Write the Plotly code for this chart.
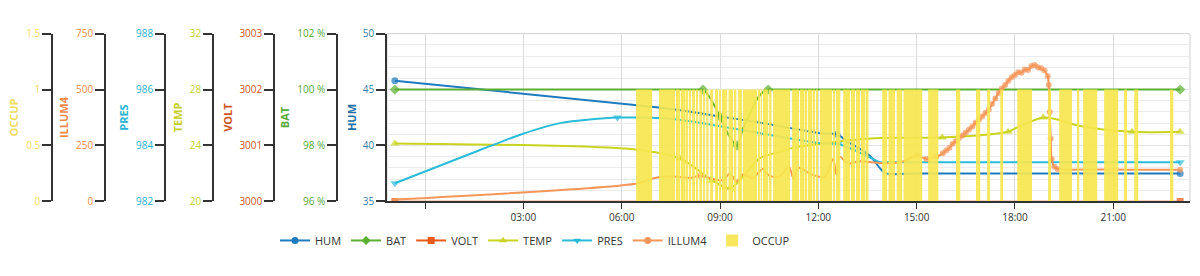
import plotly.graph_objects as go
import pandas as pd

BASE = pd.Timestamp('2024-01-02 00:00')

def T(hours):
    return [BASE + pd.Timedelta(hours=h) for h in hours]

# ---------------- data (hours relative to midnight) ----------------
hum_t = [-0.92, 6.47, 7.69, 9.0, 10.31, 12.05, 12.57, 12.9, 13.27, 13.6, 13.9, 14.05, 15.0, 17.0, 19.0, 21.0, 23.04]
hum_v = [45.8, 43.6, 43.2, 42.6, 42.0, 41.1, 41.0, 40.3, 39.7, 39.0, 37.9, 37.5, 37.5, 37.5, 37.5, 37.5, 37.5]
hum_mk = [0, 6, 16]

bat_t = [-0.92, 3.0, 6.0, 8.3, 8.48, 8.7, 9.0, 9.25, 9.52, 9.7, 9.9, 10.1, 10.3, 10.47, 10.65, 13.0, 16.0, 19.0, 23.04]
bat_v = [100, 100, 100, 100, 100, 99.7, 99.03, 98.4, 98.0, 98.6, 99.1, 99.6, 99.9, 100, 100, 100, 100, 100, 100]
bat_mk = [0, 4, 6, 8, 13, 18]

volt_t = [-0.92, 23.04]
volt_v = [3000, 3000]
volt_mk = [0, 1]

temp_t = [-0.92, 6.47, 7.78, 8.18, 8.76, 9.31, 10.22, 10.74, 11.38, 13.58, 14.7, 15.78, 17.79, 18.07, 18.86, 19.29, 19.99, 21.57, 23.04]
temp_v = [24.15, 23.7, 23.07, 22.5, 21.5, 20.95, 23.1, 23.5, 23.9, 24.5, 24.55, 24.57, 24.98, 25.3, 26.0, 25.86, 25.39, 24.98, 24.98]
temp_mk = [0, 2, 4, 5, 11, 12, 14, 17, 18]

pres_t = [-0.92, 1.68, 2.99, 4.12, 5.87, 6.47, 7.69, 10.31, 12.05, 12.6, 12.97, 13.27, 13.58, 13.88, 14.05, 16.0, 19.0, 21.0, 23.04]
pres_v = [982.65, 983.84, 984.42, 984.8, 985.0, 985.0, 984.93, 984.42, 984.08, 984.05, 983.9, 983.74, 983.57, 983.4, 983.4, 983.4, 983.4, 983.4, 983.4]
pres_mk = [0, 4, 9, 18]

illum_t = [-0.92, 6.47, 6.9, 7.2, 7.7, 8.1, 8.39, 8.8, 9.1, 9.3, 9.5, 9.7, 10.0, 10.3, 10.5, 10.8, 11.1, 11.25,
           11.4, 11.8, 12.2, 12.45, 12.55, 12.65, 12.9, 13.27, 13.6, 14.0, 14.5, 15.0, 15.3, 15.6,
           15.8, 15.9, 16.0, 16.1, 16.2, 16.3, 16.4, 16.5, 16.6, 16.7, 16.8, 16.9, 17.0, 17.1, 17.2, 17.3,
           17.4, 17.5, 17.6, 17.7, 17.8, 17.9, 18.0, 18.1, 18.2, 18.3, 18.4, 18.5, 18.6, 18.7, 18.8, 18.9,
           19.0, 19.03, 19.06, 19.09, 19.12, 19.2, 19.3, 19.5, 20.5, 21.5, 22.5, 23.04]
illum_v = [8, 80, 100, 110, 110, 105, 115, 100, 95, 125, 90, 120, 105, 145, 115, 110, 155, 100,
           150, 120, 110, 190, 120, 200, 170, 180, 175, 170, 175, 205, 190, 200,
           215, 228, 240, 258, 270, 285, 295, 308, 322, 335, 352, 365, 380, 395, 410, 435,
           460, 485, 505, 520, 540, 555, 565, 578, 575, 590, 588, 605, 610, 600, 595, 585,
           560, 520, 400, 280, 190, 155, 145, 142, 143, 142, 141, 141]
illum_mk = [6] + list(range(29, 71)) + [75]

# occupancy = 1 intervals (start hour, end hour)
occup_on = [
    (6.44, 6.93), (7.14, 7.63),
    (7.66, 7.71), (7.74, 7.79), (7.82, 7.87), (7.90, 7.95), (7.98, 8.03), (8.06, 8.11),
    (8.15, 8.24), (8.27, 8.33), (8.37, 8.45), (8.49, 8.54), (8.58, 8.65), (8.70, 8.79), (8.85, 8.94),
    (8.98, 9.03), (9.06, 9.22), (9.26, 9.40), (9.44, 9.50), (9.55, 9.67), (9.70, 10.13), (10.17, 10.23),
    (10.26, 10.28), (10.31, 10.47), (10.51, 10.57), (10.62, 11.14), (11.20, 11.41),
    (11.45, 11.50), (11.53, 11.58), (11.61, 11.66), (11.69, 11.74), (11.77, 11.82), (11.85, 11.90),
    (11.93, 11.99), (12.05, 12.42), (12.46, 12.51), (12.54, 12.59), (12.62, 12.67), (12.76, 12.97),
    (13.01, 13.03), (13.06, 13.10), (13.15, 13.27), (13.31, 13.36), (13.39, 13.44), (13.47, 13.53),
    (13.95, 14.10), (14.14, 14.34), (14.39, 14.56), (14.60, 15.17), (15.35, 15.66), (16.20, 16.33),
    (16.81, 16.94), (17.15, 17.24), (17.55, 17.64), (18.07, 18.52), (19.01, 19.10), (19.35, 19.74),
    (19.90, 19.96), (20.08, 20.51), (20.72, 21.15), (21.33, 21.42), (21.64, 21.76), (22.73, 22.83),
]

# ---------------- styling ----------------
C_HUM, C_BAT, C_VOLT, C_TEMP, C_PRES, C_ILL, C_OCC = (
    '#1f7bbf', '#5bb031', '#e8591a', '#c8d41e', '#2bbcd8', '#f5965a', '#f7e650')

fig = go.Figure()

series = [
    ('HUM', hum_t, hum_v, hum_mk, C_HUM, 'circle', 'y', 7, 2),
    ('BAT', bat_t, bat_v, bat_mk, C_BAT, 'diamond', 'y2', 8, 2),
    ('VOLT', volt_t, volt_v, volt_mk, C_VOLT, 'square', 'y3', 7, 1.5),
    ('TEMP', temp_t, temp_v, temp_mk, C_TEMP, 'triangle-up', 'y4', 8, 2),
    ('PRES', pres_t, pres_v, pres_mk, C_PRES, 'triangle-down', 'y5', 8, 2),
    ('ILLUM4', illum_t, illum_v, illum_mk, C_ILL, 'circle', 'y6', 6, 2),
]

for name, t, v, mk, c, sym, ax, ms, lw in series:
    sizes = [ms if i in mk else 0 for i in range(len(t))]
    fig.add_trace(go.Scatter(
        x=T(t), y=v, name=name, yaxis=ax, mode='lines+markers', legendgroup=name, showlegend=False,
        line=dict(color=c, width=lw, shape='spline', smoothing=0.8),
        marker=dict(color=c, symbol=sym, size=sizes, line=dict(width=0)),
        hoverinfo='x+y+name'))

for name, t, v, mk, c, sym, ax, ms, lw in series:
    fig.add_trace(go.Scatter(
        x=[None], y=[None], name=name, yaxis=ax, mode='lines+markers', legendgroup=name,
        line=dict(color=c, width=2), marker=dict(color=c, symbol=sym, size=7)))

occ_mid = [(a + b) / 2 for a, b in occup_on]
occ_w = [(b - a) * 3600 * 1000 for a, b in occup_on]
fig.add_trace(go.Bar(
    x=T(occ_mid), y=[1] * len(occup_on), width=occ_w, name='OCCUP', yaxis='y7',
    marker=dict(color=C_OCC, line=dict(width=0)), opacity=0.92, legendgroup='OCCUP'))

TICK_H = [0, 3, 6, 9, 12, 15, 18, 21]
TICK_TXT = ['', '03:00', '06:00', '09:00', '12:00', '15:00', '18:00', '21:00']

W, H = 1200, 276
x0, x1 = 387 / W, 1190 / W
yd = [(H - 204) / H, (H - 28) / H]


def free_axis(pos_px, rng, dtick, color, title, suffix=''):
    return dict(
        anchor='free', overlaying='y', side='left', position=pos_px / W, range=rng, dtick=dtick,
        showgrid=False, zeroline=False, showline=True, linecolor='#333', linewidth=1.5,
        ticks='outside', ticklen=9, tickwidth=1.5, tickcolor='#333', ticksuffix=suffix,
        tickfont=dict(color=color, size=10),
        title=dict(text='<b>%s</b>' % title, font=dict(color=color, size=11), standoff=4),
        fixedrange=True)


fig.update_layout(
    width=W, height=H, margin=dict(l=0, r=0, t=0, b=0),
    paper_bgcolor='white', plot_bgcolor='white',
    font=dict(family='Open Sans, Arial, sans-serif', color='#333'),
    barmode='overlay',
    xaxis=dict(
        type='date', domain=[x0, x1], range=[BASE + pd.Timedelta(hours=-1.16), BASE + pd.Timedelta(hours=23.34)],
        tickvals=T(TICK_H), ticktext=TICK_TXT, ticks='outside', ticklen=6, tickcolor='#333',
        showline=True, linecolor='#333', linewidth=2, showgrid=True, gridcolor='#dcdcdc',
        zeroline=False, tickfont=dict(size=10, color='#333')),
    yaxis=dict(
        domain=yd, range=[35, 50], dtick=5, side='left', showline=True, linecolor='#333', linewidth=1.5,
        ticks='outside', ticklen=9, tickwidth=1.5, tickcolor='#333', zeroline=False,
        showgrid=True, gridcolor='#e4e4e4',
        minor=dict(dtick=1, showgrid=True, gridcolor='#ececec'),
        tickfont=dict(color='#3a7ca8', size=10),
        title=dict(text='<b>HUM</b>', font=dict(color='#1c6fa5', size=11), standoff=4)),
    yaxis2=free_axis(337, [96, 102], 2, '#5aa83a', 'BAT', ' %'),
    yaxis3=free_axis(274, [3000, 3003], 1, '#d0561f', 'VOLT'),
    yaxis4=free_axis(213, [20, 32], 4, '#c5cf2a', 'TEMP'),
    yaxis5=free_axis(165, [982, 988], 2, '#2ab3d6', 'PRES'),
    yaxis6=free_axis(105, [0, 750], 250, '#ef8a4a', 'ILLUM4'),
    yaxis7=free_axis(52, [0, 1.5], 0.5, '#f0dd60', 'OCCUP'),
    legend=dict(orientation='h', x=535 / W, xanchor='center', y=(H - 245) / H, yanchor='middle',
                font=dict(size=11, color='#333'), itemwidth=30, bgcolor='rgba(0,0,0,0)'),
    shapes=[dict(type='rect', xref='x domain', yref='y domain', x0=0, x1=1, y0=0, y1=1,
                 line=dict(color='#cfcfcf', width=1), layer='below')],
)

fig.write_html('out.html')
